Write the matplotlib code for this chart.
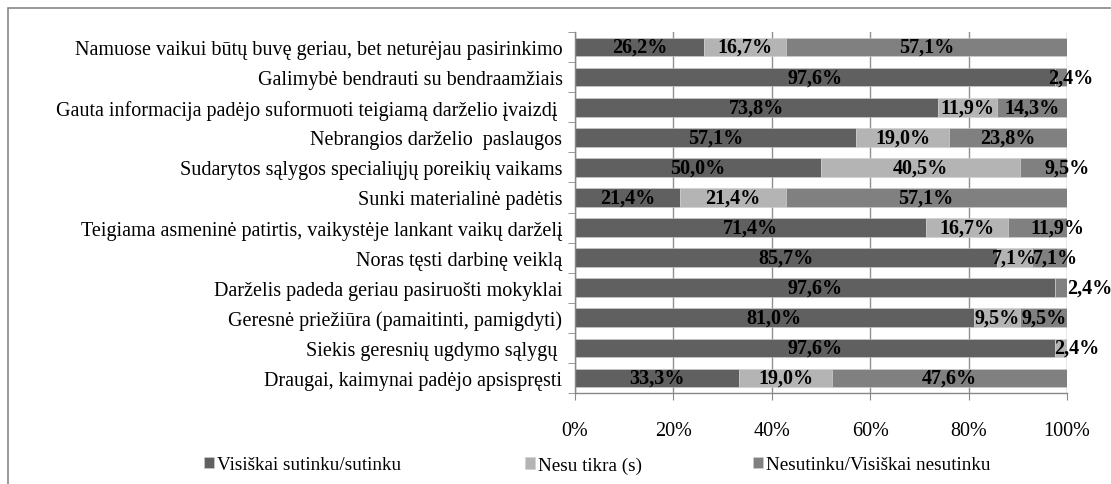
import numpy as np
import matplotlib
matplotlib.use("Agg")
import matplotlib.pyplot as plt
from matplotlib.patches import Rectangle

plt.rcParams['font.family'] = ['Liberation Serif', 'DejaVu Serif']

categories = [
    "Namuose vaikui būtų buvę geriau, bet neturėjau pasirinkimo",
    "Galimybė bendrauti su bendraamžiais",
    "Gauta informacija padėjo suformuoti teigiamą darželio įvaizdį ",
    "Nebrangios darželio  paslaugos",
    "Sudarytos sąlygos specialiųjų poreikių vaikams",
    "Sunki materialinė padėtis",
    "Teigiama asmeninė patirtis, vaikystėje lankant vaikų darželį",
    "Noras tęsti darbinę veiklą",
    "Darželis padeda geriau pasiruošti mokyklai",
    "Geresnė priežiūra (pamaitinti, pamigdyti)",
    "Siekis geresnių ugdymo sąlygų ",
    "Draugai, kaimynai padėjo apsispręsti",
]
sutinku = [26.2, 97.6, 73.8, 57.1, 50.0, 21.4, 71.4, 85.7, 97.6, 81.0, 97.6, 33.3]
nesu_tikra = [16.7, 0.0, 11.9, 19.0, 40.5, 21.4, 16.7, 7.1, 0.0, 9.5, 2.4, 19.0]
nesutinku = [57.1, 2.4, 14.3, 23.8, 9.5, 57.1, 11.9, 7.1, 2.4, 9.5, 0.0, 47.6]
series_names = ["Visiškai sutinku/sutinku", "Nesu tikra (s)", "Nesutinku/Visiškai nesutinku"]
colors = ["#606060", "#b4b4b4", "#808080"]

# some labels on narrow segments sit a bit to the right (in % units)
nudge = {(1, 2): 2.0, (4, 2): 4.7, (6, 2): 3.9, (7, 2): 1.4, (8, 2): 5.9, (10, 1): 3.2}

fig = plt.figure(figsize=(11.11, 4.85), dpi=100)
ax = fig.add_axes([575/1111, 1-394/485, 492/1111, 361/485])

y = np.arange(len(categories))[::-1]
left = np.zeros(len(categories))
bars = []
for si, vals in enumerate([sutinku, nesu_tikra, nesutinku]):
    vals = np.array(vals)
    b = ax.barh(y, vals, left=left, height=0.62, color=colors[si], label=series_names[si],
                edgecolor="#d0d0d0", linewidth=0.4, zorder=2)
    bars.append(b)
    for i, v in enumerate(vals):
        if v <= 0:
            continue
        xc = left[i] + v/2 + nudge.get((i, si), 0)
        ax.text(xc, y[i], f"{v:.1f}%".replace(".", ","), ha="center", va="center",
                fontsize=14.5, fontweight="bold", color="black", zorder=3, clip_on=False)
    left += vals

ax.set_xlim(0, 100)
ax.set_ylim(-0.5, len(categories) - 0.5)
ax.set_xticks(np.arange(0, 101, 20))
ax.set_xticklabels([f"{t}%" for t in range(0, 101, 20)], fontsize=14.5)
ax.set_yticks(y)
ax.set_yticklabels(categories, fontsize=14.5)
ax.set_yticks(np.arange(-0.5, len(categories), 1), minor=True)
ax.tick_params(axis="y", which="major", length=0, pad=9)
ax.tick_params(axis="y", which="minor", length=5, color="#888888", direction="out")
ax.tick_params(axis="x", length=5, color="#888888", direction="out", pad=15)
ax.grid(axis="x", color="#909090", linewidth=1, zorder=0)
for s in ["top", "right"]:
    ax.spines[s].set_visible(False)
for s in ["left", "bottom"]:
    ax.spines[s].set_color("#888888")
    ax.spines[s].set_linewidth(1)

# legend entries placed one by one
for b, name, lx in zip(bars, series_names, [198, 519, 747]):
    leg = fig.legend([b], [name], loc="center left", bbox_to_anchor=(lx/1111, 1-466/485),
                     frameon=False, fontsize=13.8, handlelength=0.55, handleheight=0.55,
                     handletextpad=0.15, borderaxespad=0, borderpad=0.3)

# outer chart border
fig.patches.append(Rectangle((8/1111, -0.02), 1.1, 1-9/485+0.02, transform=fig.transFigure,
                             fill=False, edgecolor="#888888", linewidth=1.2))

fig.savefig("out.png", dpi=100)
